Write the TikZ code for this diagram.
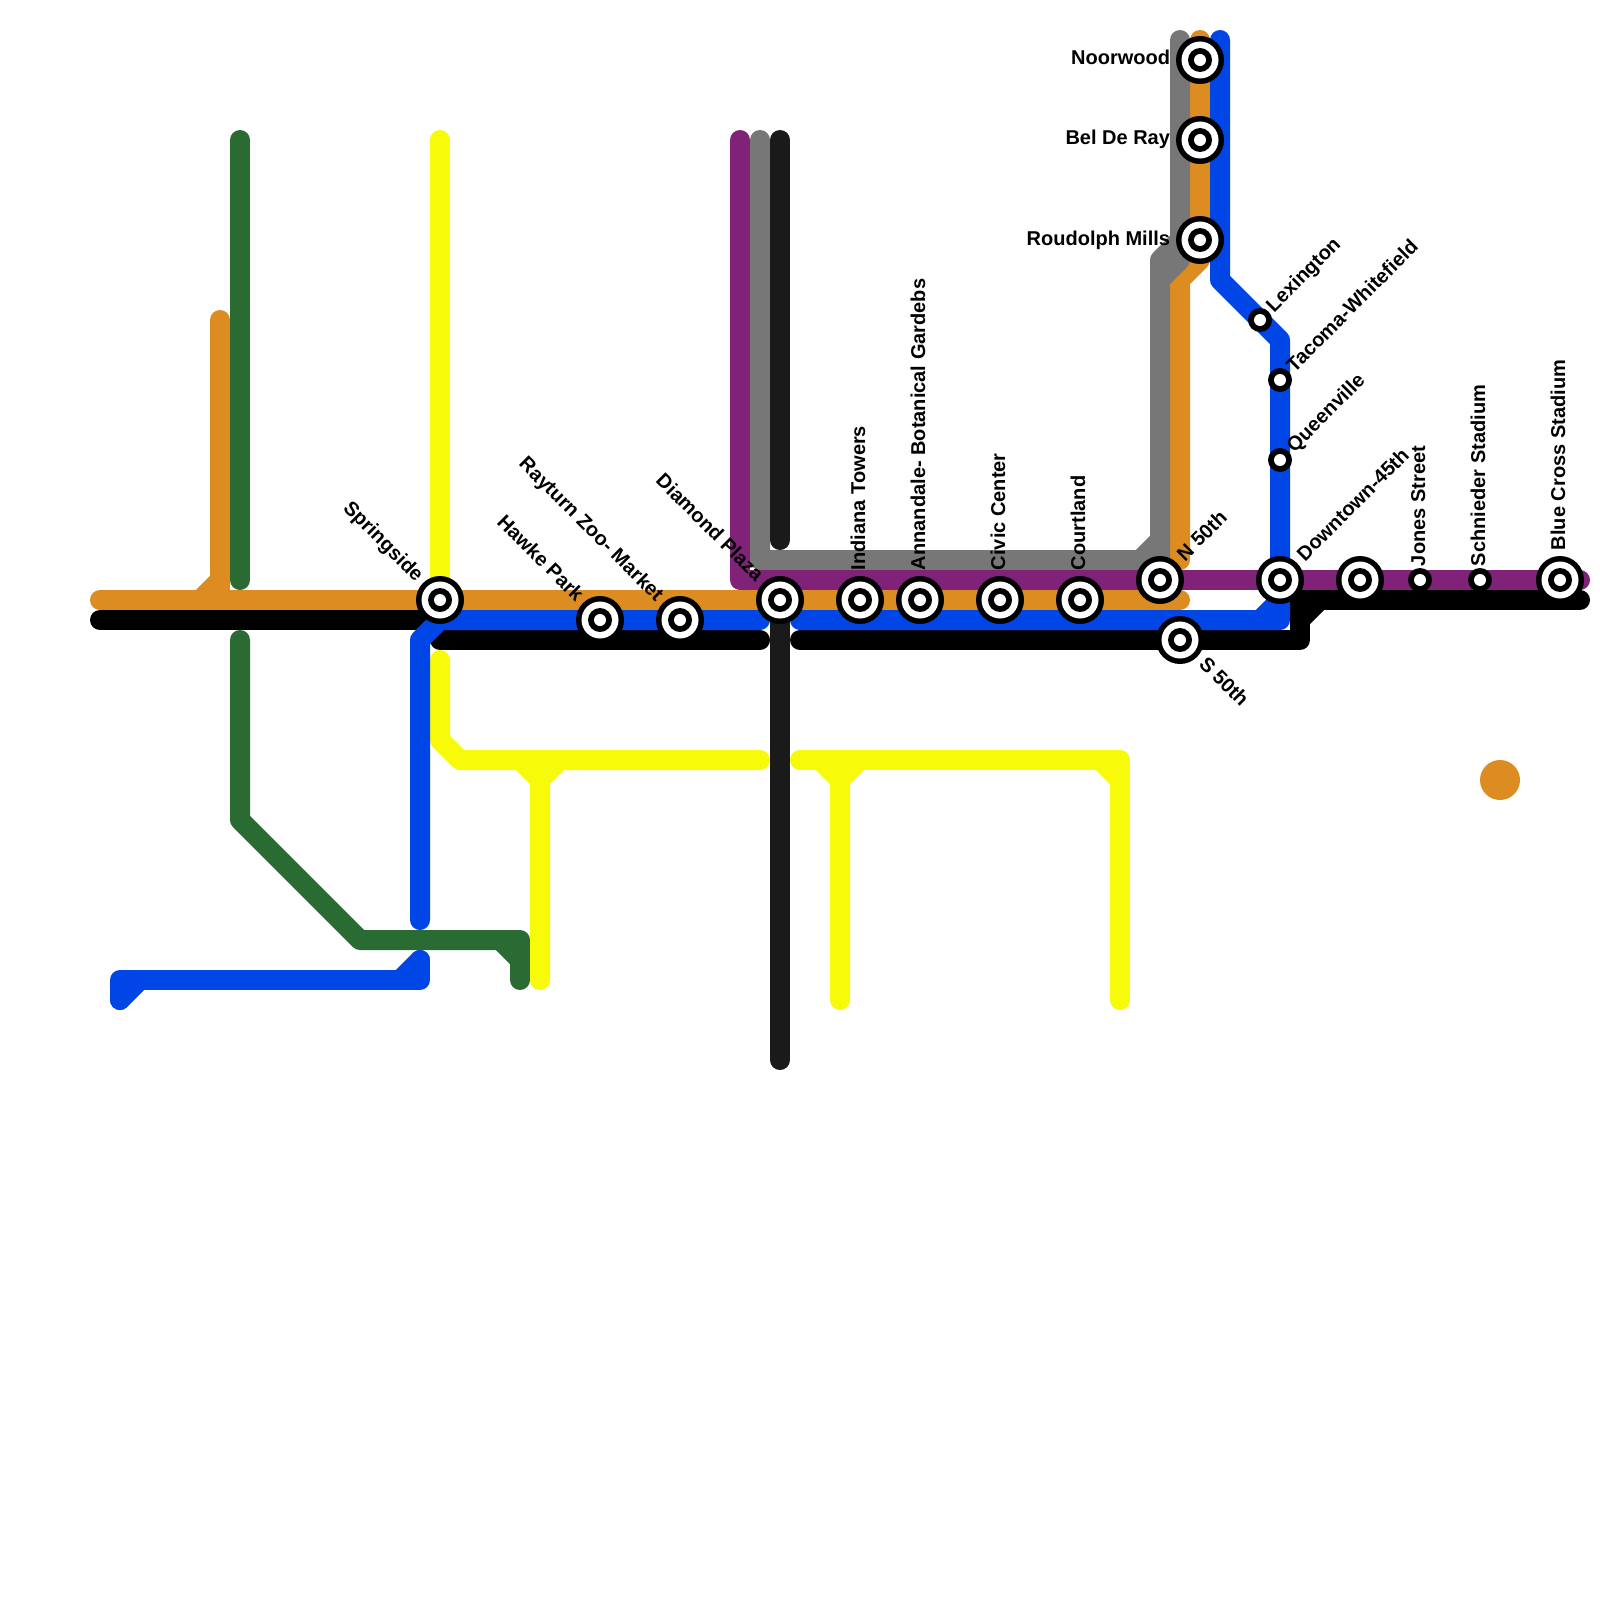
\documentclass[tikz,border=0pt]{standalone}
\usepackage{fontspec}
\setmainfont{Liberation Sans}
\definecolor{mOrange}{HTML}{DC8C20}
\definecolor{mBlue}{HTML}{0046E6}
\definecolor{mGreen}{HTML}{2A6A33}
\definecolor{mYellow}{HTML}{F7FA08}
\definecolor{mPurple}{HTML}{802278}
\definecolor{mGray}{HTML}{777777}
\definecolor{mDark}{HTML}{1A1A1A}
\tikzset{
  metro/.style={line width=10pt,line cap=round,line join=round},
  disc/.style={circle,inner sep=0pt,outer sep=0pt,draw=none,fill=#1},
  lab/.style={inner sep=0pt,outer sep=0pt,text=black,font=\fontsize{10}{12}\selectfont\bfseries},
  upl/.style={lab,rotate=90,anchor=base west},
  nel/.style={lab,rotate=45,anchor=base west},
  nwl/.style={lab,rotate=-45,anchor=base east},
  sel/.style={lab,rotate=-45,anchor=base west},
  wl/.style={lab,anchor=base east}
}
\newcommand{\bigstn}[2]{%
  \node[disc=black,minimum size=24pt] (#1) at (#2) {};
  \node[disc=white,minimum size=18.5pt] at (#1) {};
  \node[disc=black,minimum size=12pt] at (#1) {};
  \node[disc=white,minimum size=6pt] at (#1) {};
}
\newcommand{\smallstn}[2]{%
  \node[disc=black,minimum size=12pt] (#1) at (#2) {};
  \node[disc=white,minimum size=6pt] at (#1) {};
}
\begin{document}
\begin{tikzpicture}[x=0.5pt,y=-0.5pt]
\useasboundingbox (0,0) rectangle (1600,1600);
\fill[white] (0,0) rectangle (1600,1600);
% orange
\draw[metro,mOrange] (100,600) -- (1180,600);
\draw[metro,mOrange] (220,320) -- (220,600);
\draw[metro,mOrange] (220,580) -- (200,600);
\draw[metro,mOrange] (1180,560) -- (1180,280) -- (1200,260) -- (1200,40);
% grey
\draw[metro,mGray] (760,140) -- (760,560) -- (1160,560) -- (1160,260) -- (1180,240) -- (1180,40);
\draw[metro,mGray] (1140,560) -- (1160,540);
\draw[metro,mGray] (1160,280) -- (1180,260);
% green
\draw[metro,mGreen] (240,140) -- (240,580);
\draw[metro,mGreen] (240,640) -- (240,820) -- (360,940) -- (520,940) -- (520,980);
\draw[metro,mGreen] (500,940) -- (520,960);
% yellow
\draw[metro,mYellow] (440,140) -- (440,590);
\draw[metro,mYellow] (440,660) -- (440,740) -- (460,760) -- (760,760);
\draw[metro,mYellow] (520,760) -- (540,780) -- (540,980);
\draw[metro,mYellow] (560,760) -- (540,780);
\draw[metro,mYellow] (800,760) -- (1120,760) -- (1120,1000);
\draw[metro,mYellow] (820,760) -- (840,780) -- (840,1000);
\draw[metro,mYellow] (860,760) -- (840,780);
\draw[metro,mYellow] (1100,760) -- (1120,780);
% purple
\draw[metro,mPurple] (740,140) -- (740,580) -- (1580,580);
% black
\draw[metro,black] (100,620) -- (420,620);
\draw[metro,black] (440,640) -- (760,640);
\draw[metro,black] (800,640) -- (1300,640) -- (1300,600) -- (1580,600);
\draw[metro,black] (1300,620) -- (1320,600);
% blue
\draw[metro,mBlue] (420,920) -- (420,640) -- (440,620) -- (760,620);
\draw[metro,mBlue] (800,620) -- (1280,620) -- (1280,340) -- (1220,280) -- (1220,40);
\draw[metro,mBlue] (1260,620) -- (1280,600);
\draw[metro,mBlue] (120,1000) -- (120,980) -- (420,980) -- (420,960);
\draw[metro,mBlue] (120,1000) -- (140,980);
\draw[metro,mBlue] (400,980) -- (420,960);
% dark
\draw[metro,mDark] (780,140) -- (780,540);
\draw[metro,mDark] (780,620) -- (780,1060);
% loose disc
\node[disc=mOrange,minimum size=20pt] (spot) at (1500,780) {};
% stations
\bigstn{springside}{440,600}
\bigstn{hawke}{600,620}
\bigstn{rayturn}{680,620}
\bigstn{diamond}{780,600}
\bigstn{indiana}{860,600}
\bigstn{annandale}{920,600}
\bigstn{civic}{1000,600}
\bigstn{courtland}{1080,600}
\bigstn{nfifty}{1160,580}
\bigstn{sfifty}{1180,640}
\bigstn{downtown}{1280,580}
\bigstn{unnamed}{1360,580}
\bigstn{bluecross}{1560,580}
\bigstn{noorwood}{1200,60}
\bigstn{belderay}{1200,140}
\bigstn{roudolph}{1200,240}
\smallstn{lexington}{1260,320}
\smallstn{tacoma}{1280,380}
\smallstn{queenville}{1280,460}
\smallstn{jones}{1420,580}
\smallstn{schnieder}{1480,580}
% labels
\node[nwl] (tspringside) at (415.5,582.5) {Springside};
\node[nwl] (thawke) at (575.5,602.5) {Hawke Park};
\node[nwl] (trayturn) at (655.5,602.5) {Rayturn Zoo- Market};
\node[nwl] (tdiamond) at (755.5,582.5) {Diamond Plaza};
\node[upl] (tindiana) at (865,570) {Indiana Towers};
\node[upl] (tannandale) at (925,570) {Annandale- Botanical Gardebs};
\node[upl] (tcivic) at (1005,570) {Civic Center};
\node[upl] (tcourtland) at (1085,570) {Courtland};
\node[nel] (tnfifty) at (1185,562) {N 50th};
\node[sel] (tsfifty) at (1198,665) {S 50th};
\node[nel] (tdowntown) at (1305,562) {Downtown-45th};
\node[upl] (tjones) at (1425,566) {Jones Street};
\node[upl] (tschnieder) at (1485,566) {Schnieder Stadium};
\node[upl] (tbluecross) at (1565,550) {Blue Cross Stadium};
\node[wl] (tnoorwood) at (1170,65) {Noorwood};
\node[wl] (tbelderay) at (1170,145) {Bel De Ray};
\node[wl] (troudolph) at (1170,245) {Roudolph Mills};
\node[nel] (tlexington) at (1274,313) {Lexington};
\node[nel] (ttacoma) at (1294.5,373) {Tacoma-Whitefield};
\node[nel] (tqueenville) at (1294.5,453) {Queenville};
\end{tikzpicture}
\end{document}
